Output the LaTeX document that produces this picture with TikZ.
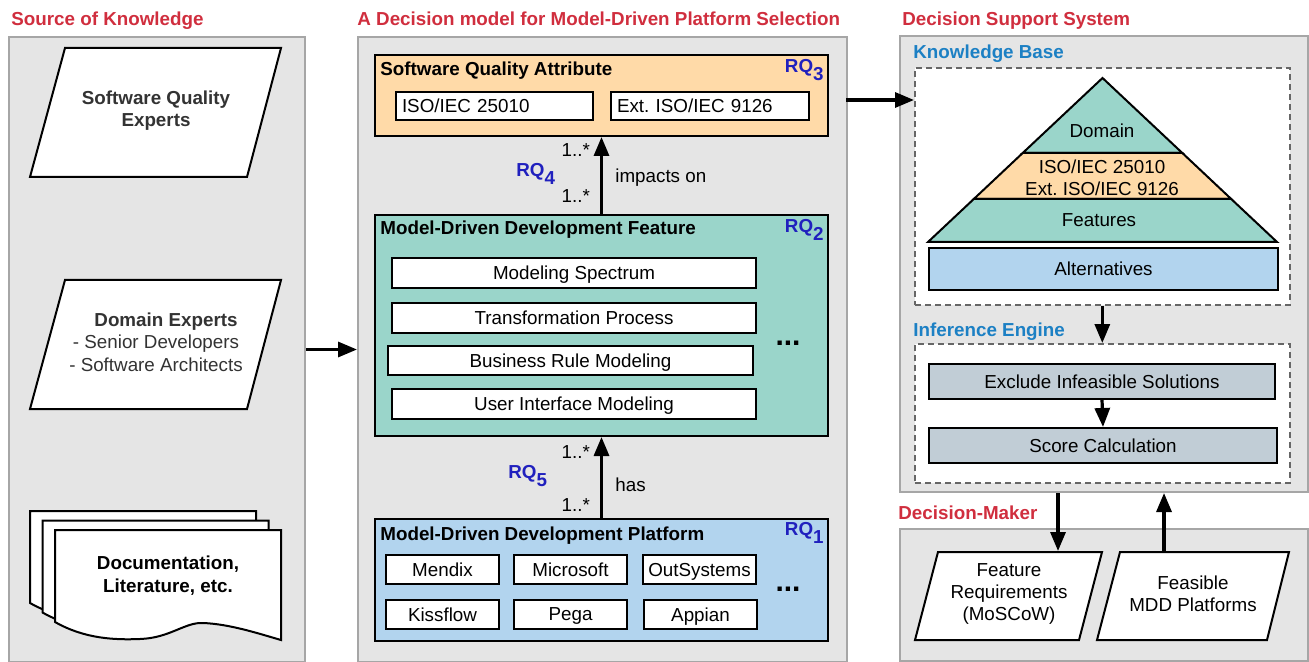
\documentclass[tikz,border=0pt]{standalone}
\usepackage{fontspec}
\setmainfont{Liberation Sans}
\usetikzlibrary{arrows.meta}

\definecolor{headred}{RGB}{208,46,62}
\definecolor{rqblue}{RGB}{32,32,190}
\definecolor{kbblue}{RGB}{28,128,196}
\definecolor{panelgray}{RGB}{229,229,229}
\definecolor{panelline}{RGB}{166,166,166}
\definecolor{sqaorange}{RGB}{255,218,168}
\definecolor{featteal}{RGB}{154,213,202}
\definecolor{platblue}{RGB}{178,212,238}
\definecolor{enginegray}{RGB}{193,205,214}

\newcommand{\RQ}[1]{RQ\raisebox{-4pt}{#1}}

\begin{document}
\fontsize{9.4}{11.2}\selectfont\frenchspacing
\begin{tikzpicture}[x=0.5pt, y=-0.5pt,
  panel/.style={draw=panelline, fill=panelgray, line width=1pt, inner sep=0pt, anchor=north west},
  heading/.style={text=headred, font=\bfseries, anchor=base west, inner sep=0pt},
  subhead/.style={text=kbblue, font=\bfseries, anchor=base west, inner sep=0pt},
  group/.style={draw, line width=1pt, inner sep=0pt, anchor=north west},
  title/.style={font=\bfseries, anchor=base west, inner sep=0pt},
  item/.style={draw, fill=white, line width=1pt, inner sep=0pt, text depth=0pt, anchor=north west},
  stage/.style={draw, fill=enginegray, line width=1pt, inner sep=0pt, text depth=0pt, anchor=north west},
  rqlabel/.style={text=rqblue, font=\bfseries, inner sep=0pt},
  mult/.style={inner sep=1pt},
  arr/.style={line width=1.6pt, -{Triangle[length=9.5pt,width=7.5pt]}},
  para/.style={draw, fill=white, line width=1pt},
  paratext/.style={align=center, inner sep=0pt},
  dashbox/.style={draw=black!60, dash pattern=on 3pt off 2pt, line width=0.8pt, fill=white,
    inner sep=0pt, anchor=north west},
  more/.style={font=\bfseries\fontsize{15}{15}\selectfont, inner sep=0pt}
]
\useasboundingbox (0,0) rectangle (1309,662);

\node[panel, minimum width=148pt, minimum height=312.5pt] (src) at (8,36) {};
\node[panel, minimum width=244.5pt, minimum height=312.5pt] (model) at (357,36) {};
\node[panel, minimum width=204pt, minimum height=228pt] (dss) at (899,35) {};
\node[panel, minimum width=204pt, minimum height=66pt] (dm) at (899,528) {};

\node[heading] (srchead) at (11,26) {Source of Knowledge};
\node[heading] (modelhead) at (357,26) {A Decision model for Model-Driven Platform Selection};
\node[heading] (dsshead) at (902,26) {Decision Support System};
\node[heading] (dmhead) at (898,519) {Decision-Maker};

\draw[para] (65,48) -- (281,48) -- (247,177) -- (30,177) -- cycle;
\node[paratext, text=black!80, font=\bfseries] (sqexp) at (156,110.5) {Software Quality\\Experts};
\draw[para] (65,280) -- (281,280) -- (247,409) -- (30,409) -- cycle;
\node[paratext, text=black!80] (domexp) at (156,342) {\hspace*{10pt}\textbf{Domain Experts}\\- Senior Developers\\- Software Architects};

\foreach \dx/\dy in {0/0,12.5/9.5,25/19}
  \draw[line width=1pt, fill=white, shift={(\dx,\dy)}] (30,511) -- (256,511) -- (256,621)
    .. controls (235,615) and (205,605) .. (178,604)
    .. controls (160,603) and (145,619) .. (115,620)
    .. controls (90,621) and (60,620) .. (30,603) -- cycle;
\node[font=\bfseries, align=center] (docs) at (168,575.5) {Documentation,\\Literature, etc.};

\draw[arr] (src.east) -- (model.west);

\node[group, fill=sqaorange, minimum width=226.5pt, minimum height=40.5pt] (sqa) at (374,54) {};
\node[title] (sqatitle) at (380,76) {Software Quality Attribute};
\node[rqlabel, anchor=north east] (rq3) at (824,59) {\RQ{3}};
\node[item, minimum width=98.5pt, minimum height=14pt, text width=92.5pt, align=left] (iso1) at (395,91) {ISO/IEC 25010};
\node[item, minimum width=99pt, minimum height=14pt, text width=93pt, align=left] (iso2) at (610,91) {Ext. ISO/IEC 9126};

\node[group, fill=featteal, minimum width=226.5pt, minimum height=110.5pt] (feat) at (374,214) {};
\node[title] (feattitle) at (380,235) {Model-Driven Development Feature};
\node[rqlabel, anchor=north east] (rq2) at (824,219) {\RQ{2}};
\node[item, minimum width=182pt, minimum height=15pt] (f1) at (391,257) {Modeling Spectrum};
\node[item, minimum width=182pt, minimum height=15pt] (f2) at (391,302) {Transformation Process};
\node[item, minimum width=182.5pt, minimum height=14.5pt] (f3) at (387,345) {Business Rule Modeling};
\node[item, minimum width=182pt, minimum height=15pt] (f4) at (391,388) {User Interface Modeling};
\node[more] (featmore) at (788,343) {...};

\node[group, fill=platblue, minimum width=226.5pt, minimum height=61pt] (plat) at (374,518) {};
\node[title] (plattitle) at (380,540) {Model-Driven Development Platform};
\node[rqlabel, anchor=north east] (rq1) at (824,522) {\RQ{1}};
\node[item, minimum width=56.5pt, minimum height=14.5pt] (p1) at (385,554) {Mendix};
\node[item, minimum width=56.5pt, minimum height=14.5pt] (p2) at (513,554) {Microsoft};
\node[item, minimum width=56.5pt, minimum height=14.5pt] (p3) at (642,554) {OutSystems};
\node[item, minimum width=56.5pt, minimum height=14.5pt] (p4) at (385,599) {Kissflow};
\node[item, minimum width=56.5pt, minimum height=14.5pt] (p5) at (513,599) {Pega};
\node[item, minimum width=56.5pt, minimum height=14.5pt] (p6) at (643,599) {Appian};
\node[more] (platmore) at (788,589) {...};

\draw[arr] (feat.north) -- node[mult, pos=0.23, left=4pt] (m1) {1..*}
  node[mult, pos=0.835, left=4pt] (m2) {1..*}
  node[pos=0.47, right=3pt] (impacts) {impacts on} (sqa.south);
\node[rqlabel, anchor=north west] (rq4) at (516,163) {\RQ{4}};
\draw[arr] (plat.north) -- node[mult, pos=0.157, left=4pt] (m3) {1..*}
  node[mult, pos=0.81, left=4pt] (m4) {1..*}
  node[pos=0.41, right=3pt] (has) {has} (feat.south);
\node[rqlabel, anchor=north west] (rq5) at (508,465) {\RQ{5}};

\node[subhead] (kbhead) at (913,59) {Knowledge Base};
\node[dashbox, minimum width=187.5pt, minimum height=118.5pt] (kb) at (914,67) {};
\draw[fill=featteal, line width=1pt] (1102.5,78) -- (1182.3,153) -- (1022.7,153) -- cycle;
\draw[fill=sqaorange, line width=1pt] (1022.7,153) -- (1182.3,153) -- (1231.2,199) -- (973.8,199) -- cycle;
\draw[fill=featteal, line width=1pt] (973.8,199) -- (1231.2,199) -- (1277,242) -- (928,242) -- cycle;
\node (domain) at (1102,131) {Domain};
\node[align=center] (isolayer) at (1102,177.5) {ISO/IEC 25010\\Ext. ISO/IEC 9126};
\node (features) at (1099,220) {Features};
\node[item, fill=platblue, minimum width=174.5pt, minimum height=21pt] (alt) at (928,247) {Alternatives};

\node[subhead] (iehead) at (913,336) {Inference Engine};
\node[dashbox, minimum width=187.5pt, minimum height=69.5pt] (ie) at (914,343) {};
\node[stage, minimum width=173pt, minimum height=17.5pt] (excl) at (928,363) {Exclude Infeasible Solutions};
\node[stage, minimum width=174pt, minimum height=17.5pt] (score) at (928,427) {Score Calculation};
\draw[arr] (kb.south) -- (ie.north);
\draw[arr] (excl.south) -- (score.north);

\coordinate (sqaout) at (846,100);
\draw[arr] (sqaout) -- (sqaout -| kb.west);

\draw[para] (938,552) -- (1102,552) -- (1079,640) -- (915,640) -- cycle;
\node[paratext] (req) at (1009,594) {Feature\\Requirements\\(MoSCoW)};
\draw[para] (1120,552) -- (1289,552) -- (1267,640) -- (1097,640) -- cycle;
\node[paratext] (feas) at (1193,594) {Feasible\\MDD Platforms};
\coordinate (reqtop) at (1058,551);
\coordinate (feastop) at (1164,551);
\draw[arr] (dss.south -| reqtop) -- (reqtop);
\draw[arr] (feastop) -- (feastop |- dss.south);
\end{tikzpicture}
\end{document}
